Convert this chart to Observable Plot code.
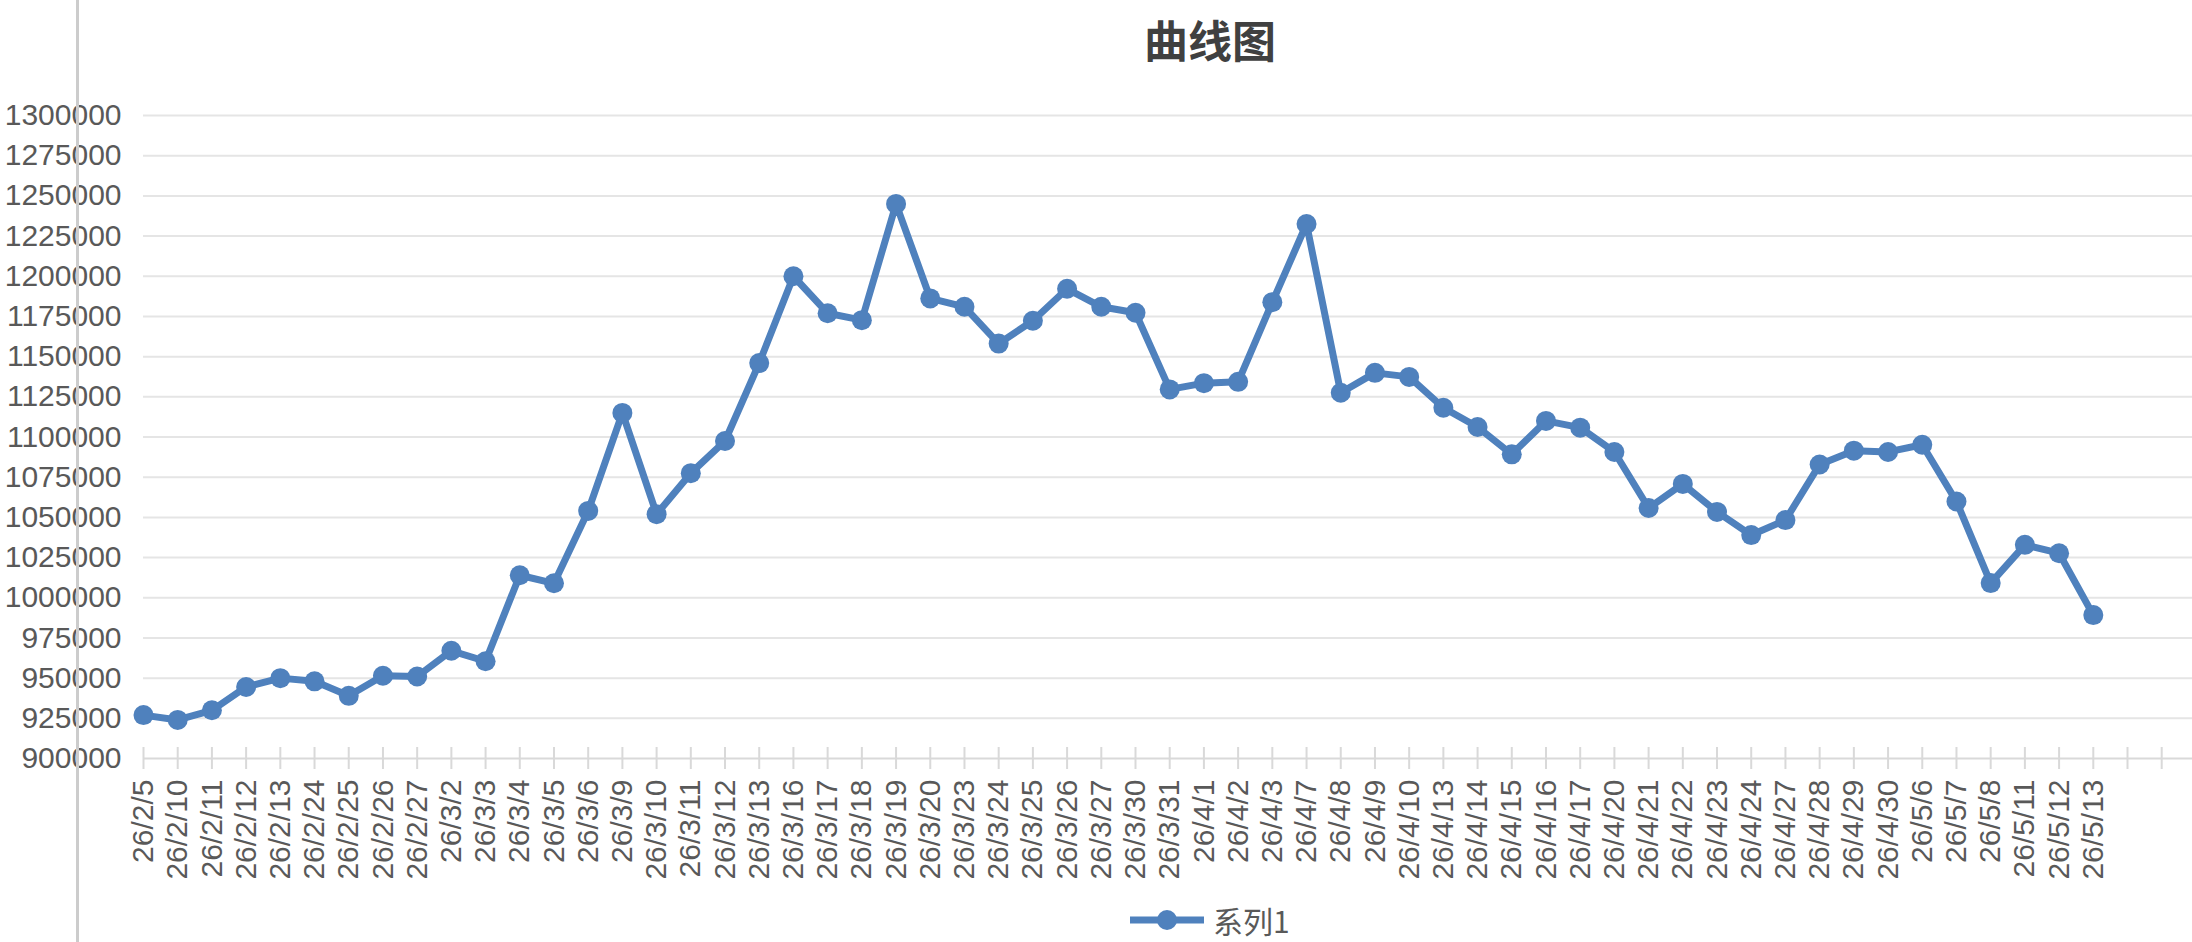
<!DOCTYPE html>
<html>
<head>
<meta charset="utf-8">
<script src="https://cdn.jsdelivr.net/npm/d3@7"></script>
<script src="https://cdn.jsdelivr.net/npm/@observablehq/plot@0.6"></script>
<style>
  html, body { margin: 0; padding: 0; background: #ffffff; }
  #wrap { position: relative; width: 2192px; height: 942px; overflow: hidden; background: #ffffff; }
  #title { position: absolute; left: 1010px; top: 8px; width: 400px; text-align: center;
           font: bold 44px "Noto Sans CJK SC", sans-serif; color: #404040; line-height: 62px; }
  #chart { position: absolute; left: 0; top: 0; }
  #vline { position: absolute; left: 76px; top: 0; width: 3px; height: 942px; background: #cccccc; }
  #legend { position: absolute; left: 1129px; top: 900px; display: flex; align-items: center;
            font: 30px "Noto Sans CJK SC", sans-serif; color: #595959; }
  #legend span { margin-left: 8px; line-height: 40px; }
</style>
</head>
<body>
<div id="wrap">
  <div id="chart"></div>
  <div id="title">曲线图</div>
  <div id="vline"></div>
  <div id="legend">
    <svg width="76" height="40" viewBox="0 0 76 40"><line x1="1" y1="20" x2="75" y2="20" stroke="#4f81bd" stroke-width="7"/><circle cx="38" cy="20" r="10" fill="#4f81bd"/></svg>
    <span>系列1</span>
  </div>
</div>
<script>
const dates = [
  "26/2/5","26/2/10","26/2/11","26/2/12","26/2/13","26/2/24","26/2/25","26/2/26","26/2/27",
  "26/3/2","26/3/3","26/3/4","26/3/5","26/3/6","26/3/9","26/3/10","26/3/11","26/3/12","26/3/13",
  "26/3/16","26/3/17","26/3/18","26/3/19","26/3/20","26/3/23","26/3/24","26/3/25","26/3/26","26/3/27",
  "26/3/30","26/3/31","26/4/1","26/4/2","26/4/3","26/4/7","26/4/8","26/4/9","26/4/10","26/4/13",
  "26/4/14","26/4/15","26/4/16","26/4/17","26/4/20","26/4/21","26/4/22","26/4/23","26/4/24","26/4/27",
  "26/4/28","26/4/29","26/4/30","26/5/6","26/5/7","26/5/8","26/5/11","26/5/12","26/5/13"
];
const values = [
  927000, 924000, 930000, 944500, 950000, 948000, 939000, 951500, 951000,
  967000, 960500, 1014000, 1009000, 1054000, 1115000, 1052000, 1077500, 1097500, 1146000,
  1200000, 1177000, 1172700, 1245000, 1186200, 1181000, 1158100, 1172300, 1192200, 1181000,
  1177300, 1129600, 1133500, 1134300, 1183900, 1232500, 1127500, 1139900, 1137400, 1118200,
  1106200, 1089200, 1110000, 1105800, 1090700, 1055800, 1070800, 1053400, 1039000, 1048300,
  1082900, 1091500, 1090700, 1095200, 1059900, 1009100, 1032900, 1027700, 989200
];
const yTicks = [900000, 925000, 950000, 975000, 1000000, 1025000, 1050000, 1075000, 1100000,
  1125000, 1150000, 1175000, 1200000, 1225000, 1250000, 1275000, 1300000];
// category slots on the axis: the 58 dates plus two empty trailing slots
const slotCount = 60;
const xSlots = Array.from({length: slotCount}, (_, i) => i);

const data = dates.map((d, i) => ({i, date: d, value: values[i]}));

const chart = Plot.plot({
  width: 2192,
  height: 942,
  marginLeft: 143,
  marginRight: 0,
  marginTop: 115,
  marginBottom: 184,
  style: {background: "transparent", color: "#595959", fontFamily: "'Liberation Sans', Arial, sans-serif"},
  x: {type: "linear", domain: [0, 59.9], axis: null},
  y: {domain: [900000, 1300000], axis: null},
  marks: [
    Plot.ruleY(yTicks.slice(1), {stroke: "#e5e5e5", strokeWidth: 2}),
    Plot.ruleY([yTicks[0]], {stroke: "#d9d9d9", strokeWidth: 2}),
    Plot.ruleX(xSlots, {x: d => d, y1: yTicks[0], y2: yTicks[0], insetTop: -11, insetBottom: -11, stroke: "#d9d9d9", strokeWidth: 2}),
    Plot.axisY(yTicks, {tickSize: 0, tickPadding: 22, fontSize: 30, label: null, tickFormat: d => String(d)}),
    Plot.axisX(xSlots, {tickSize: 0, tickPadding: 21, tickRotate: -90, fontSize: 30, label: null, tickFormat: i => dates[i] ?? ""}),
    Plot.line(data, {x: "i", y: "value", stroke: "#4f81bd", strokeWidth: 7, strokeLinejoin: "round", strokeLinecap: "round"}),
    Plot.dot(data, {x: "i", y: "value", r: 10, fill: "#4f81bd", stroke: "none"})
  ]
});
document.getElementById("chart").appendChild(chart);
</script>
</body>
</html>
